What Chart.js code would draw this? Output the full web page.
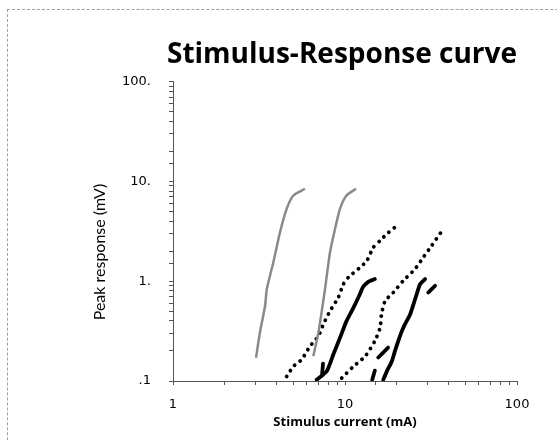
<!DOCTYPE html>
<html>
<head>
<meta charset="utf-8">
<script src="https://cdn.jsdelivr.net/npm/chart.js@4"></script>
<style>
  html, body { margin: 0; padding: 0; background: #fff; }
  #wrap { position: relative; width: 557px; height: 440px; overflow: hidden; }
  #frame { position: absolute; left: 7px; top: 9px; width: 600px; height: 500px;
           border-top: 1px dashed #a0a0a0; border-left: 1px dashed #a0a0a0; }
  canvas { position: absolute; left: 0; top: 0; }
</style>
</head>
<body>
<div id="wrap">
  <div id="frame"></div>
  <canvas id="chart" width="557" height="440"></canvas>
</div>
<script>
// --- Données (courant mA, réponse mV) ---
const grisAx = [3.04, 3.20, 3.43, 3.51, 3.83, 4.19, 4.58, 5.01, 5.85];
const grisAy = [0.171, 0.304, 0.564, 0.831, 1.54, 3.09, 5.31, 7.22, 8.44];
const grisBx = [6.54, 7.0, 7.65, 8.18, 8.75, 9.35, 10.2, 11.6];
const grisBy = [0.177, 0.304, 0.831, 1.95, 3.34, 5.31, 7.22, 8.44];

const pointsAx = [4.58, 5.01, 5.6, 6.26, 7.0, 7.48, 8.18, 9.14, 9.78, 10.45, 12.2, 13.4, 14.6, 16.0, 17.5, 19.5];
const pointsAy = [0.111, 0.140, 0.164, 0.223, 0.281, 0.369, 0.502, 0.685, 0.933, 1.09, 1.37, 1.60, 2.18, 2.55, 2.97, 3.47];
const pointsBx = [9.57, 11.2, 13.1, 14.9, 16.0, 16.3, 17.1, 19.1, 21.8, 25.5, 28.5, 31.9, 37.3];
const pointsBy = [0.107, 0.140, 0.177, 0.251, 0.342, 0.465, 0.634, 0.77, 1.01, 1.32, 1.73, 2.27, 3.34];

const noirAx = [6.85, 7.83, 8.55, 9.35, 10.2, 11.2, 12.2, 12.7, 13.6, 14.9];
const noirAy = [0.103, 0.125, 0.184, 0.271, 0.398, 0.543, 0.74, 0.87, 0.98, 1.05];
const noirBx = [16.7, 17.5, 18.7, 19.5, 20.4, 21.4, 22.3, 23.9, 25.0, 26.1, 27.3, 29.2];
const noirBy = [0.103, 0.125, 0.157, 0.199, 0.251, 0.316, 0.369, 0.465, 0.587, 0.74, 0.933, 1.05];

// petits morceaux détachés des courbes noires
const morceaux = [
    { x: [7.35, 7.45], y: [0.113, 0.149] },
    { x: [14.4, 14.9], y: [0.103, 0.127] },
    { x: [15.6, 17.8], y: [0.172, 0.216] },
    { x: [30.5, 33.4], y: [0.77, 0.90] }
];

const ticksY = { 100: '100.', 10: '10.', 1: '1.', 0.1: '.1' };
const ticksX = { 1: '1', 10: '10', 100: '100' };

const toPts = (xs, ys) => xs.map((x, i) => ({ x, y: ys[i] }));

const estDecade = v => Math.abs(Math.log10(v) - Math.round(Math.log10(v))) < 1e-6;

const styleGris = { borderColor: '#8a8a8a', borderWidth: 2.5, tension: 0.2 };
const stylePoints = { borderColor: '#000', borderWidth: 3.8, borderDash: [0.1, 6.8], borderCapStyle: 'round', tension: 0.2 };
const styleNoir = { borderColor: '#000', borderWidth: 3.8, borderCapStyle: 'round', borderJoinStyle: 'round', tension: 0.2 };

const datasets = [
    { data: toPts(grisAx, grisAy), ...styleGris },
    { data: toPts(grisBx, grisBy), ...styleGris },
    { data: toPts(pointsAx, pointsAy), ...stylePoints },
    { data: toPts(pointsBx, pointsBy), ...stylePoints },
    { data: toPts(noirAx, noirAy), ...styleNoir },
    { data: toPts(noirBx, noirBy), ...styleNoir },
    ...morceaux.map(m => ({ data: toPts(m.x, m.y), ...styleNoir }))
];

// --- Titre de l'axe Y (dessiné à la main pour le placer comme l'original) ---
const titreY = {
    id: 'titreY',
    afterDraw(chart) {
        const ctx = chart.ctx;
        ctx.save();
        ctx.translate(100, 252);
        ctx.rotate(-Math.PI / 2);
        ctx.font = '16px Lato';
        ctx.fillStyle = '#000';
        ctx.textAlign = 'center';
        ctx.textBaseline = 'middle';
        ctx.fillText('Peak response (mV)', 0, 0);
        ctx.restore();
    }
};

new Chart(document.getElementById('chart'), {
    type: 'scatter',
    data: { datasets },
    plugins: [titreY],
    options: {
        responsive: false,
        devicePixelRatio: 1,
        animation: false,
        showLine: true,
        elements: { point: { radius: 0, hoverRadius: 0 } },
        layout: { padding: { left: 0, right: 40, top: 0, bottom: 0 } },
        plugins: {
            legend: { display: false },
            tooltip: { enabled: false },
            title: {
                display: true,
                text: 'Stimulus-Response curve',
                align: 'end',
                color: '#000',
                font: { family: 'Open Sans', size: 28, weight: 'bold', lineHeight: 1.2 },
                padding: { top: 38, bottom: 10 }
            }
        },
        scales: {
            x: {
                type: 'logarithmic',
                min: 1,
                max: 100,
                afterFit: s => { s.height = 59; },
                border: { color: '#555', width: 1 },
                grid: { drawOnChartArea: false, drawTicks: true, tickLength: 4, color: '#555' },
                ticks: {
                    autoSkip: false,
                    maxRotation: 0,
                    padding: 12,
                    color: '#000',
                    font: { family: 'DejaVu Sans', size: 13 },
                    callback: v => estDecade(v) ? ticksX[Math.round(v)] : ''
                },
                title: {
                    display: true,
                    text: 'Stimulus current (mA)',
                    color: '#000',
                    font: { family: 'Open Sans', size: 13, weight: 'bold', lineHeight: 1.2 },
                    padding: { top: 0, bottom: 10 }
                }
            },
            y: {
                type: 'logarithmic',
                min: 0.1,
                max: 100,
                afterFit: s => { s.width = 173; },
                border: { color: '#555', width: 1 },
                grid: { drawOnChartArea: false, drawTicks: true, tickLength: 4, color: '#555' },
                ticks: {
                    autoSkip: false,
                    padding: 18,
                    color: '#000',
                    font: { family: 'DejaVu Sans', size: 13 },
                    callback: v => estDecade(v) ? ticksY[Math.pow(10, Math.round(Math.log10(v)))] : ''
                }
            }
        }
    }
});
</script>
</body>
</html>
